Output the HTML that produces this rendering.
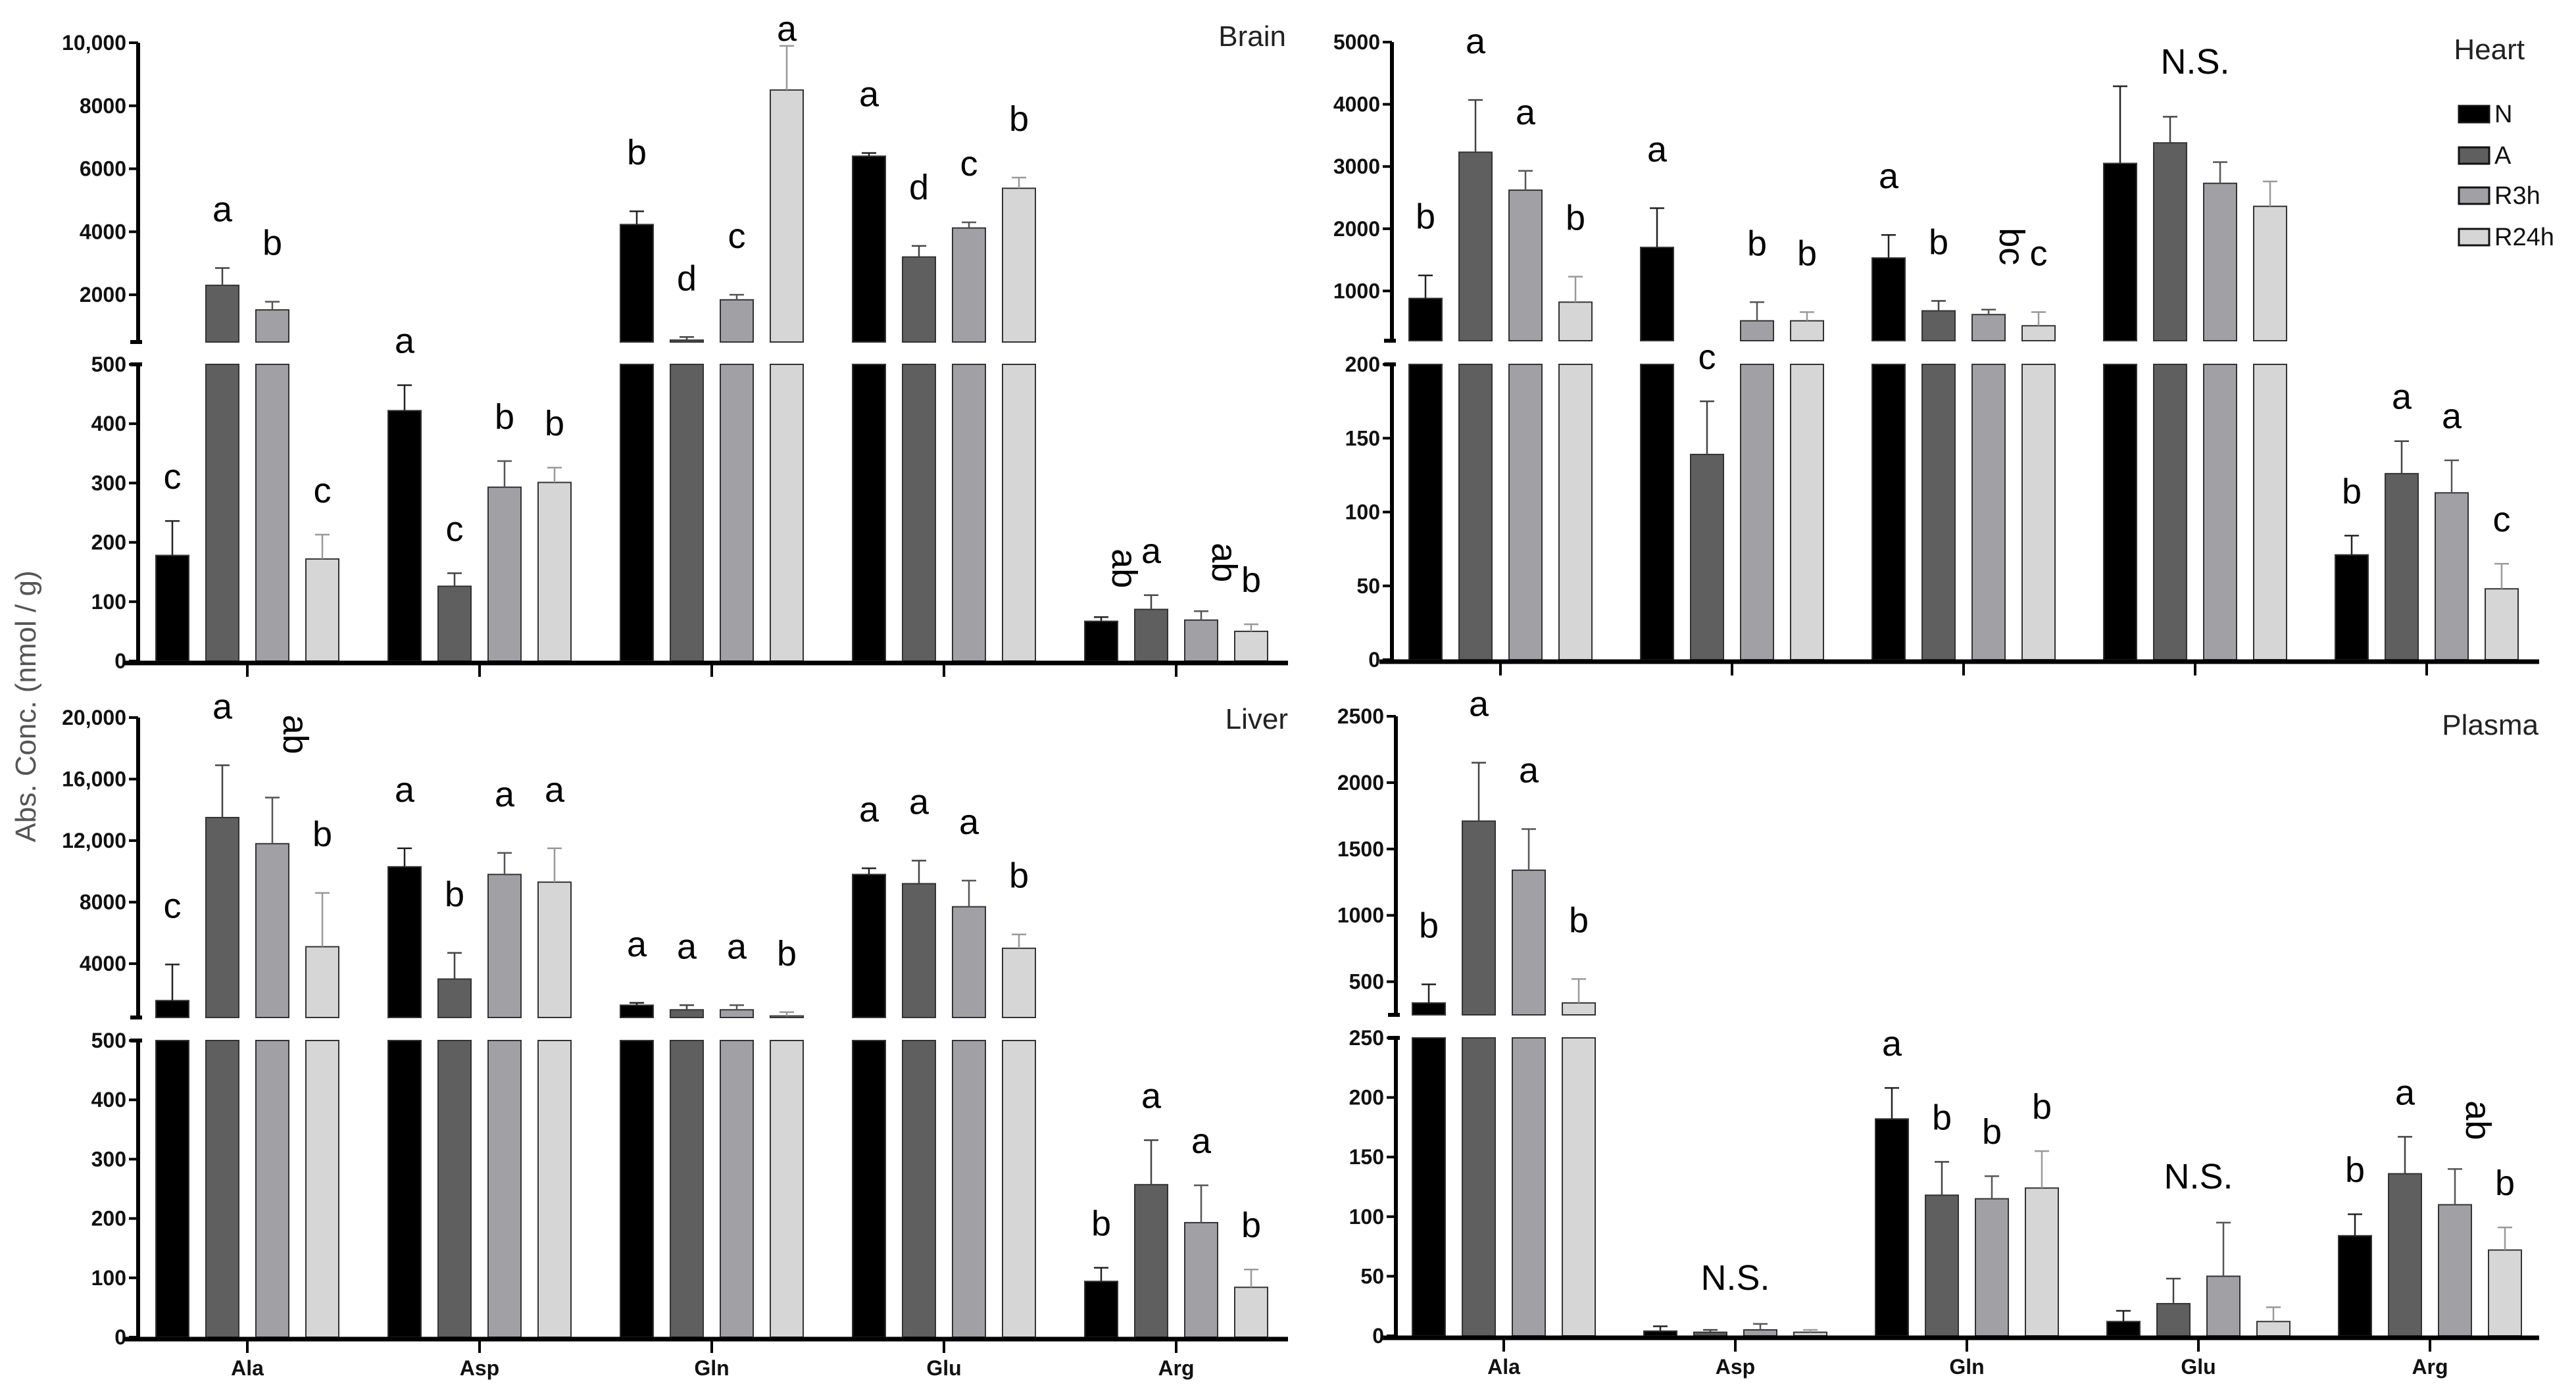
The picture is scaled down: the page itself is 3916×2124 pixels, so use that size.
<!DOCTYPE html>
<html><head><meta charset="utf-8">
<style>
html,body{margin:0;padding:0;background:#fff;}
svg{display:block;}
text{font-family:"Liberation Sans Narrow","Liberation Sans",sans-serif;}
</style></head>
<body>
<svg id="chart" width="3916" height="2124" viewBox="0 0 3916 2124" xmlns="http://www.w3.org/2000/svg">
<rect x="0" y="0" width="3916" height="2124" fill="#fff"/>
<text x="0" y="0" transform="translate(54,1074) rotate(-90)" text-anchor="middle" font-size="44" fill="#555" style="font-family:'Liberation Sans',sans-serif">Abs. Conc. (nmol / g)</text>
</svg>
<script>
const categories = ["Ala","Asp","Gln","Glu","Arg"];
const seriesNames = ["N","A","R3h","R24h"];

const brainN = [178, 422, 4230, 6400, 67];
const brainA = [2300, 126, 560, 3200, 87];
const brainR3h = [1520, 293, 1840, 4120, 69];
const brainR24h = [172, 301, 8500, 5380, 50];
const brainErrN = [236, 465, 4650, 6500, 74];
const brainErrA = [2850, 148, 660, 3550, 111];
const brainErrR3h = [1780, 337, 2000, 4300, 84];
const brainErrR24h = [213, 326, 9900, 5720, 62];
const brainLetters = [["c","a","b","c"],["a","c","b","b"],["b","d","c","a"],["a","d","c","b"],["ab","a","ab","b"]];
const brainTopTicks = [2000, 4000, 6000, 8000, 10000];
const brainTopTickLabels = ["2000","4000","6000","8000","10,000"];
const brainLowTicks = [0,100,200,300,400,500];

const heartN = [880, 1700, 1530, 3050, 71];
const heartA = [3230, 139, 680, 3380, 126];
const heartR3h = [2620, 520, 620, 2730, 113];
const heartR24h = [820, 520, 440, 2360, 48];
const heartErrN = [1250, 2330, 1900, 4290, 84];
const heartErrA = [4070, 175, 840, 3800, 148];
const heartErrR3h = [2930, 820, 700, 3070, 135];
const heartErrR24h = [1230, 660, 660, 2760, 65];
const heartLetters = [["b","a","a","b"],["a","c","b","b"],["a","b","bc","c"],["NS"],["b","a","a","c"]];
const heartTopTicks = [1000,2000,3000,4000,5000];
const heartTopTickLabels = ["1000","2000","3000","4000","5000"];
const heartLowTicks = [0,50,100,150,200];

const liverN = [1600, 10300, 1300, 9800, 94];
const liverA = [13500, 3000, 1000, 9200, 257];
const liverR3h = [11800, 9800, 1000, 7700, 193];
const liverR24h = [5100, 9300, 600, 5000, 84];
const liverErrN = [3950, 11500, 1450, 10200, 117];
const liverErrA = [16900, 4700, 1300, 10700, 332];
const liverErrR3h = [14800, 11200, 1300, 9400, 256];
const liverErrR24h = [8600, 11500, 850, 5900, 114];
const liverLetters = [["c","a","ab","b"],["a","b","a","a"],["a","a","a","b"],["a","a","a","b"],["b","a","a","b"]];
const liverTopTicks = [4000,8000,12000,16000,20000];
const liverTopTickLabels = ["4000","8000","12,000","16,000","20,000"];
const liverLowTicks = [0,100,200,300,400,500];

const plasmaN = [340, 4, 182, 12, 84];
const plasmaA = [1710, 3, 118, 27, 136];
const plasmaR3h = [1340, 5, 115, 50, 110];
const plasmaR24h = [340, 3, 124, 12, 72];
const plasmaErrN = [480, 8, 208, 21, 102];
const plasmaErrA = [2150, 5, 146, 48, 167];
const plasmaErrR3h = [1650, 10, 134, 95, 140];
const plasmaErrR24h = [520, 5, 155, 24, 91];
const plasmaLetters = [["b","a","a","b"],["NS"],["a","b","b","b"],["NS"],["b","a","ab","b"]];
const plasmaTopTicks = [500,1000,1500,2000,2500];
const plasmaTopTickLabels = ["500","1000","1500","2000","2500"];
const plasmaLowTicks = [0,50,100,150,200,250];

const colors = ["#000000","#5f5f5f","#a1a1a5","#d6d6d6"];
const errColors = ["#222","#444","#555","#999"];
const NS = "http://www.w3.org/2000/svg";
const svg = document.getElementById("chart");

function mk(tag, attrs, parent){
  const e = document.createElementNS(NS, tag);
  for (const k in attrs) e.setAttribute(k, attrs[k]);
  (parent||svg).appendChild(e);
  return e;
}

function drawPanel(p){
  const g = mk("g", {});
  
  
  const yScale = v => {
    if (v <= p.brk) return p.y0 - v * (p.y0 - p.yLowTop) / p.brk;
    return p.yTopBot - (v - p.brk) * (p.yTopBot - p.yTopTop) / (p.topMax - p.brk);
  };
  const xScale = (ci, si) => p.cx0 + ci * p.cStep + (si - 1.5) * 76;
  const series = [p.N, p.A, p.R3h, p.R24h];
  const errs = [p.eN, p.eA, p.eR3h, p.eR24h];
  for (let ci = 0; ci < categories.length; ci++) {
    for (let si = 0; si < 4; si++) {
      const v = series[si][ci], e = errs[si][ci];
      const cx = xScale(ci, si);
      const x = cx - 25;
      const low = Math.min(v, p.brk);
      const yl = yScale(low);
      const r1 = mk("rect", {x:x, y:yl, width:50, height:p.y0 - yl, fill:colors[si], stroke:"#333", "stroke-width":2}, g);
      
      
      if (v > p.brk) {
        const yt = yScale(v);
        const r2 = mk("rect", {x:x, y:yt, width:50, height:p.yTopBot - yt, fill:colors[si], stroke:"#333", "stroke-width":2}, g);
        
        
        mk("rect", {x:x-2, y:p.yTopBot+1, width:54, height:p.yLowTop - p.yTopBot - 2, fill:"#fff"}, g);
      }
      const yv = yScale(v), ye = yScale(e);
      const eg = mk("g", {stroke:errColors[si], "stroke-width":2.5}, g);
      
      
      mk("line", {x1:cx, y1:yv, x2:cx, y2:ye}, eg);
      mk("line", {x1:cx-11, y1:ye, x2:cx+11, y2:ye}, eg);
      const lt = p.letters[ci];
      if (lt.length === 4) {
        const off = ye < p.yTopBot ? 88 : 66;
        let ly = Math.max(ye - off, p.yTopTop - 20);
        const s = lt[si];
        let t;
        if (s.length === 2) {
          t = mk("text", {x:0, y:0, transform:`translate(${cx+17},${ly - 8}) rotate(90)`, "text-anchor":"middle", "font-size":54, fill:"#000"}, g);
        } else {
          t = mk("text", {x:cx, y:ly + 17, "text-anchor":"middle", "font-size":54, fill:"#000"}, g);
        }
        t.textContent = s;
        
        
      } else if (si === 0) {
        let mx = -Infinity;
        for (let k = 0; k < 4; k++) mx = Math.max(mx, errs[k][ci]);
        let ly = Math.max(yScale(mx) - 70, p.yTopTop + 30);
        const t = mk("text", {x:p.cx0 + ci * p.cStep, y:ly + 18, "text-anchor":"middle", "font-size":54, fill:"#000"}, g);
        t.textContent = "N.S.";
        
        
      }
    }
  }
  const ax = mk("g", {stroke:"#000", "stroke-width":6}, g);
  
  
  mk("line", {x1:p.ax, y1:p.yTopTop, x2:p.ax, y2:p.yTopBot}, ax);
  mk("line", {x1:p.ax, y1:p.yLowTop, x2:p.ax, y2:p.y0 + 3}, ax);
  mk("line", {x1:p.ax - 12, y1:p.yTopBot, x2:p.ax + 6, y2:p.yTopBot}, ax);
  mk("line", {x1:p.ax - 12, y1:p.yLowTop, x2:p.ax + 6, y2:p.yLowTop}, ax);
  const tickRow = (v, lab) => {
    const y = yScale(v);
    mk("line", {x1:p.ax - 14, y1:y, x2:p.ax, y2:y, stroke:"#000", "stroke-width":4}, g);
    const t = mk("text", {x:p.ax - 18, y:y + 11, "text-anchor":"end", "font-size":32, "font-weight":"bold", fill:"#111"}, g);
    t.textContent = lab;
    
    
  };
  p.topTicks.forEach((v, i) => tickRow(v, p.topLabels[i]));
  p.lowTicks.forEach(v => tickRow(v, String(v)));
  const xa = mk("line", {x1:p.xa0, y1:p.y0 + 3, x2:p.xa1, y2:p.y0 + 3, stroke:"#000", "stroke-width":7}, g);
  
  
  categories.forEach((c, ci) => {
    const cx = p.cx0 + ci * p.cStep;
    mk("line", {x1:cx, y1:p.y0 + 3, x2:cx, y2:p.y0 + 24, stroke:"#000", "stroke-width":4}, g);
    if (p.showCats) {
      const t = mk("text", {x:cx, y:p.y0 + 58, "text-anchor":"middle", "font-size":32, "font-weight":"bold", fill:"#111"}, g);
      t.textContent = c;
      
      
    }
  });
  const tt = mk("text", {x:p.titleX, y:p.titleY, "text-anchor":"end", "font-size":44, fill:"#222"}, g);
  tt.textContent = p.title;
  
  
}

drawPanel({name:"brain", title:"Brain", titleX:1955, titleY:70, N:brainN, A:brainA, R3h:brainR3h, R24h:brainR24h,
  eN:brainErrN, eA:brainErrA, eR3h:brainErrR3h, eR24h:brainErrR24h, letters:brainLetters,
  brk:500, topMax:10000, yTopTop:65, yTopBot:520, yLowTop:554, y0:1005,
  ax:210, xa0:188, xa1:1958, cx0:376, cStep:353, topTicks:brainTopTicks, topLabels:brainTopTickLabels, lowTicks:brainLowTicks, showCats:false});
drawPanel({name:"heart", title:"Heart", titleX:3838, titleY:90, N:heartN, A:heartA, R3h:heartR3h, R24h:heartR24h,
  eN:heartErrN, eA:heartErrA, eR3h:heartErrR3h, eR24h:heartErrR24h, letters:heartLetters,
  brk:200, topMax:5000, yTopTop:64, yTopBot:518, yLowTop:554, y0:1003,
  ax:2116, xa0:2097, xa1:3860, cx0:2281, cStep:352, topTicks:heartTopTicks, topLabels:heartTopTickLabels, lowTicks:heartLowTicks, showCats:false});
drawPanel({name:"liver", title:"Liver", titleX:1958, titleY:1108, N:liverN, A:liverA, R3h:liverR3h, R24h:liverR24h,
  eN:liverErrN, eA:liverErrA, eR3h:liverErrR3h, eR24h:liverErrR24h, letters:liverLetters,
  brk:500, topMax:20000, yTopTop:1091, yTopBot:1547, yLowTop:1582, y0:2033,
  ax:210, xa0:188, xa1:1958, cx0:376, cStep:353, topTicks:liverTopTicks, topLabels:liverTopTickLabels, lowTicks:liverLowTicks, showCats:true});
drawPanel({name:"plasma", title:"Plasma", titleX:3859, titleY:1117, N:plasmaN, A:plasmaA, R3h:plasmaR3h, R24h:plasmaR24h,
  eN:plasmaErrN, eA:plasmaErrA, eR3h:plasmaErrR3h, eR24h:plasmaErrR24h, letters:plasmaLetters,
  brk:250, topMax:2500, yTopTop:1089, yTopBot:1543, yLowTop:1578, y0:2031,
  ax:2122, xa0:2100, xa1:3860, cx0:2286, cStep:352, topTicks:plasmaTopTicks, topLabels:plasmaTopTickLabels, lowTicks:plasmaLowTicks, showCats:true});

const leg = mk("g", {});


const legY = [161, 224, 285, 348];
seriesNames.forEach((s, i) => {
  const it = mk("g", {}, leg);
  
  
  mk("rect", {x:3738, y:legY[i], width:46, height:25, fill:colors[i], stroke:"#111", "stroke-width":3}, it);
  const t = mk("text", {x:3792, y:legY[i] + 25, "font-size":38, fill:"#111"}, it);
  t.textContent = s;
});
</script>
</body></html>
